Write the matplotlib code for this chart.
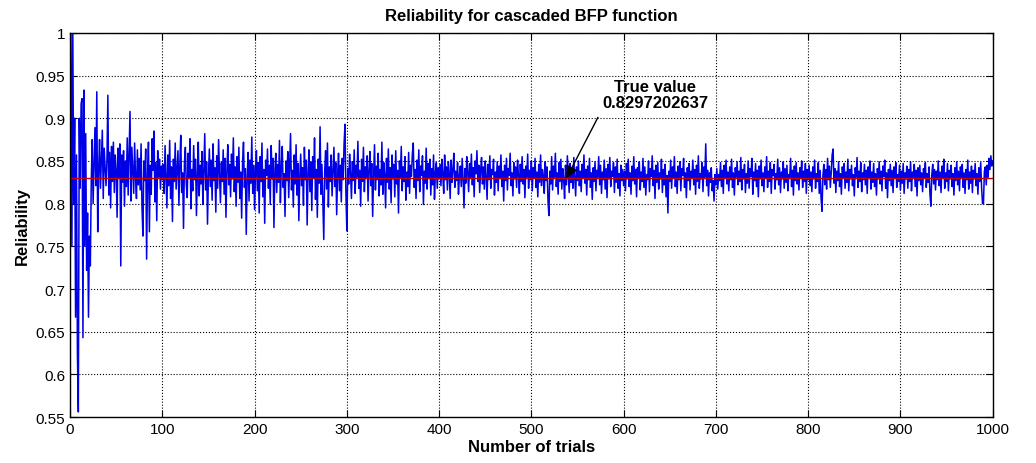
import numpy as np
import matplotlib
matplotlib.use("Agg")
import matplotlib.pyplot as plt
from matplotlib.ticker import FormatStrFormatter

# reliability estimates (in thousandths), 100 trials per list
rel_001_100 = [1000, 750, 1000, 800, 900, 667, 857, 625, 556, 900,
               818, 917, 923, 643, 933, 750, 882, 722, 789, 667,
               762, 727, 826, 875, 800, 846, 889, 821, 931, 767,
               839, 875, 818, 853, 886, 806, 865, 842, 821, 850,
               927, 810, 860, 795, 867, 826, 872, 813, 857, 840,
               784, 865, 830, 870, 727, 857, 825, 862, 797, 850,
               820, 877, 810, 859, 908, 803, 866, 838, 812, 871,
               831, 806, 863, 822, 853, 816, 870, 795, 762, 850,
               827, 864, 735, 833, 872, 767, 845, 811, 876, 839,
               885, 802, 848, 780, 862, 831, 852, 817, 844, 828]
rel_101_200 = [846, 812, 868, 830, 795, 857, 821, 874, 806, 843,
               779, 852, 826, 871, 817, 839, 862, 798, 845, 880,
               813, 836, 771, 848, 866, 822, 807, 859, 831, 876,
               794, 840, 815, 868, 828, 852, 786, 834, 872, 809,
               845, 823, 861, 799, 838, 882, 816, 849, 776, 833,
               864, 820, 851, 804, 870, 827, 842, 790, 856, 818,
               875, 835, 801, 848, 826, 863, 811, 853, 784, 839,
               869, 822, 846, 808, 858, 829, 877, 814, 843, 797,
               855, 825, 866, 806, 837, 783, 849, 872, 819, 841,
               764, 832, 860, 803, 851, 824, 878, 812, 845, 793]
rel_201_300 = [836, 862, 815, 848, 789, 855, 826, 871, 808, 840,
               777, 851, 833, 864, 818, 845, 799, 868, 829, 853,
               772, 838, 859, 813, 846, 825, 874, 801, 843, 867,
               819, 835, 785, 850, 827, 861, 807, 844, 882, 816,
               839, 796, 857, 823, 869, 810, 847, 780, 832, 858,
               821, 842, 798, 866, 828, 851, 775, 837, 863, 814,
               849, 792, 855, 830, 877, 805, 840, 784, 852, 824,
               890, 811, 846, 800, 758, 838, 862, 817, 871, 796,
               843, 826, 857, 809, 836, 866, 820, 848, 787, 834,
               859, 815, 845, 802, 853, 828, 870, 893, 812, 768]
rel_301_400 = [841, 823, 858, 836, 806, 849, 827, 863, 812, 845,
               831, 873, 818, 839, 797, 852, 826, 866, 814, 843,
               830, 856, 803, 838, 861, 821, 847, 785, 833, 869,
               816, 844, 828, 859, 809, 840, 822, 872, 811, 848,
               834, 795, 853, 825, 864, 817, 842, 801, 857, 829,
               846, 808, 862, 823, 839, 789, 850, 831, 867, 815,
               843, 826, 855, 804, 837, 820, 860, 812, 845, 832,
               858, 871, 819, 840, 806, 851, 827, 863, 814, 844,
               833, 856, 799, 838, 824, 865, 817, 847, 830, 852,
               810, 841, 822, 857, 805, 836, 848, 818, 842, 829]
rel_401_500 = [846, 821, 852, 834, 812, 857, 828, 843, 816, 849,
               836, 806, 851, 825, 840, 859, 819, 838, 827, 848,
               811, 833, 844, 820, 853, 829, 795, 841, 824, 855,
               837, 814, 847, 831, 858, 822, 842, 808, 850, 835,
               862, 826, 845, 813, 839, 854, 823, 843, 817, 850,
               832, 805, 846, 828, 856, 818, 840, 834, 852, 810,
               837, 825, 849, 815, 844, 830, 857, 820, 838, 803,
               845, 827, 853, 816, 841, 833, 859, 821, 836, 809,
               848, 829, 843, 819, 851, 834, 812, 846, 826, 855,
               823, 840, 807, 844, 831, 858, 818, 839, 828, 850]
rel_501_600 = [815, 842, 830, 853, 819, 837, 808, 846, 825, 857,
               821, 840, 833, 812, 849, 827, 843, 804, 786, 838,
               823, 855, 816, 844, 831, 859, 820, 836, 811, 848,
               826, 852, 817, 841, 829, 806, 845, 822, 856, 834,
               813, 847, 825, 839, 818, 854, 832, 809, 843, 827,
               850, 821, 838, 814, 846, 830, 857, 824, 840, 810,
               844, 828, 853, 819, 836, 805, 842, 826, 849, 815,
               839, 831, 855, 822, 845, 812, 837, 828, 851, 817,
               841, 807, 846, 829, 854, 820, 838, 832, 848, 813,
               843, 825, 852, 818, 835, 809, 845, 827, 840, 821]
rel_601_700 = [838, 815, 847, 829, 852, 820, 836, 811, 844, 827,
               855, 823, 840, 808, 842, 831, 849, 816, 837, 826,
               853, 819, 843, 810, 834, 828, 850, 814, 841, 832,
               856, 821, 839, 806, 845, 825, 848, 817, 836, 829,
               852, 813, 840, 822, 846, 808, 833, 789, 838, 826,
               851, 818, 843, 830, 855, 820, 837, 812, 844, 828,
               849, 815, 841, 833, 853, 819, 836, 807, 842, 827,
               847, 816, 838, 830, 851, 822, 840, 811, 845, 826,
               856, 818, 835, 829, 848, 814, 843, 831, 870, 821,
               839, 809, 836, 825, 842, 815, 827, 803, 834, 822]
rel_701_800 = [841, 817, 834, 827, 848, 820, 839, 812, 845, 830,
               851, 823, 837, 815, 843, 828, 852, 819, 836, 810,
               842, 831, 849, 822, 838, 826, 854, 816, 840, 829,
               846, 813, 835, 824, 850, 818, 841, 832, 853, 811,
               837, 827, 847, 820, 839, 808, 844, 829, 851, 821,
               836, 814, 843, 830, 855, 819, 838, 826, 848, 812,
               840, 833, 846, 817, 835, 828, 852, 822, 842, 813,
               837, 829, 849, 818, 841, 825, 845, 815, 834, 831,
               853, 820, 839, 810, 844, 827, 848, 823, 836, 816,
               842, 830, 850, 819, 838, 826, 847, 812, 840, 828]
rel_801_900 = [845, 821, 837, 814, 843, 829, 851, 818, 835, 826,
               848, 812, 839, 806, 791, 833, 846, 822, 840, 817,
               853, 828, 844, 819, 836, 857, 864, 824, 841, 813,
               838, 827, 849, 820, 835, 811, 843, 830, 847, 818,
               837, 825, 852, 815, 840, 829, 845, 821, 834, 809,
               842, 831, 854, 819, 838, 826, 848, 814, 836, 828,
               846, 822, 839, 812, 843, 830, 850, 817, 837, 825,
               847, 820, 835, 810, 841, 829, 849, 823, 838, 815,
               844, 832, 851, 818, 836, 807, 840, 827, 846, 821,
               839, 813, 843, 830, 848, 819, 834, 826, 845, 816]
rel_901_1000 = [838, 824, 847, 812, 836, 829, 844, 818, 840, 826,
                849, 815, 837, 831, 846, 820, 839, 809, 842, 827,
                845, 822, 836, 814, 841, 830, 848, 819, 835, 825,
                843, 811, 797, 834, 846, 823, 840, 816, 838, 828,
                850, 821, 837, 813, 844, 830, 852, 818, 836, 826,
                847, 815, 839, 829, 845, 820, 835, 810, 842, 827,
                849, 822, 838, 815, 843, 831, 846, 819, 836, 812,
                840, 828, 851, 817, 837, 824, 844, 813, 839, 829,
                847, 821, 835, 811, 842, 826, 848, 818, 800, 800,
                838, 843, 822, 845, 831, 853, 840, 856, 844, 850]

true_value = 0.8297202637

reliability = np.array(rel_001_100 + rel_101_200 + rel_201_300 + rel_301_400
                       + rel_401_500 + rel_501_600 + rel_601_700 + rel_701_800
                       + rel_801_900 + rel_901_1000) / 1000.0
trials = np.arange(1, len(reliability) + 1)

plt.rcParams['font.family'] = ['Liberation Sans', 'DejaVu Sans']

fig = plt.figure(figsize=(10.36, 4.64), dpi=100)
ax = fig.add_axes([0.0676, 0.099, 0.8906, 0.828])

ax.plot(trials, reliability, color='#0000e6', lw=1.1)
ax.axhline(true_value, color='#cc0000', lw=1.0)

ax.set_xlim(0, 1000)
ax.set_ylim(0.55, 1.0)
ax.set_xticks(np.arange(0, 1001, 100))
ax.set_yticks(np.arange(0.55, 1.001, 0.05))
ax.yaxis.set_major_formatter(FormatStrFormatter('%g'))
ax.tick_params(direction='in', top=True, right=True, labelsize=11, length=5)
ax.grid(True, color='black', linestyle=':', linewidth=0.8)
for s in ax.spines.values():
    s.set_linewidth(1.0)

ax.set_title('Reliability for cascaded BFP function', fontsize=12,
             fontweight='bold', pad=9)
ax.set_xlabel('Number of trials', fontsize=12, fontweight='bold', labelpad=2)
ax.set_ylabel('Reliability', fontsize=12, fontweight='bold', labelpad=4)

ax.annotate('True value\n' + f'{true_value:.10f}', xy=(538, true_value),
            xytext=(634, 0.928), ha='center', va='center', fontsize=12,
            fontweight='bold', linespacing=1.05,
            arrowprops=dict(arrowstyle='-|>', color='black', lw=1.0,
                            mutation_scale=18, shrinkA=4, shrinkB=0,
                            relpos=(0.0, 0.0)))

fig.savefig('out.png', dpi=100)
